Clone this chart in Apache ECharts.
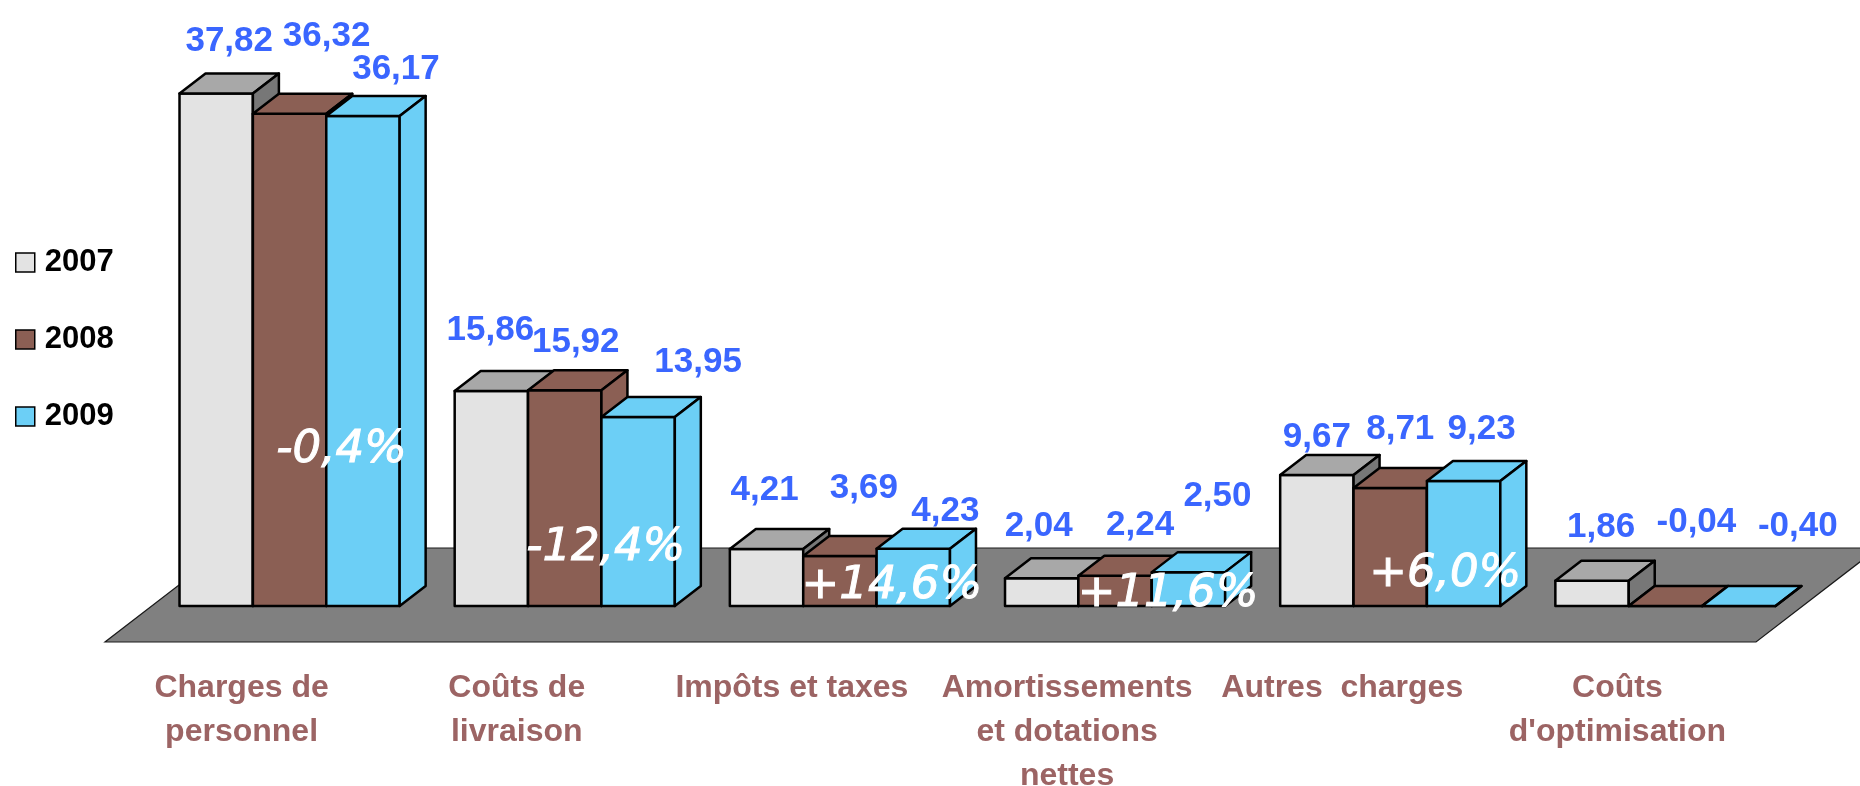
<!DOCTYPE html>
<html>
<head>
<meta charset="utf-8">
<script src="https://cdn.jsdelivr.net/npm/echarts@6/dist/echarts.min.js"></script>
<style>
  html, body { margin: 0; padding: 0; background: #fff; }
  #chart { width: 1860px; height: 786px; }
</style>
</head>
<body>
<div id="chart"></div>
<script>
// données
const categories = ['Charges de\npersonnel', 'Coûts de\nlivraison', 'Impôts et taxes',
  'Amortissements\net dotations\nnettes', 'Autres  charges', "Coûts\nd'optimisation"]
const years = ['2007', '2008', '2009']
const v2007 = [37.82, 15.86, 4.21, 2.04, 9.67, 1.86]
const v2008 = [36.32, 15.92, 3.69, 2.24, 8.71, -0.04]
const v2009 = [36.17, 13.95, 4.23, 2.50, 9.23, -0.40]
const changes = [-0.4, -12.4, 14.6, 11.6, 6.0, null] // 2009 / 2008

// placement des étiquettes (décalages en px, comme dans l'original)
const labelShift = [
  [[0, -6], [-14, -15], [-15, -13], [-16, -6], [-13, 8], [-4, -7]],
  [[24, -32], [-2, -2], [11, -22], [12, -4], [-3, -13], [18, -38]],
  [[20, -1], [47, -9], [19, 9], [16, -30], [5, -6], [46, -34]]
]
const pctPos = [[52, -156], [41, -58], [52, -20], [53, -12], [55, -32]]

const colors = [
  { front: '#E3E3E3', top: '#A8A8A8', side: '#777777' },
  { front: '#8B5F54', top: '#8B5F54', side: '#8B5F54' },
  { front: '#6CCFF6', top: '#6CCFF6', side: '#6CCFF6' }
]
const DX = 26, DY = -20

const fmt = v => v.toFixed(2).replace('.', ',')
const fmtPct = v => (v > 0 ? '+' : '') + v.toFixed(1).replace('.', ',') + '%'

const chart = echarts.init(document.getElementById('chart'))

const barRender = s => (params, api) => {
  const idx = api.value(0)
  const v = api.value(1)
  const base = api.coord([idx, 0])
  const top = api.coord([idx, Math.max(0, v)])
  const w = api.size([1, 0])[0] * 0.8 / 3
  const x0 = base[0] - 1.5 * w + s * w
  const x1 = x0 + w
  const yb = base[1], yt = top[1]
  const c = colors[s]
  const line = { stroke: '#000', lineWidth: 2.5, lineJoin: 'round' }
  const sh = labelShift[s][params.dataIndex]
  return {
    type: 'group',
    children: [
      { type: 'rect', shape: { x: x0, y: yt, width: w, height: yb - yt },
        style: Object.assign({ fill: c.front }, line) },
      { type: 'polygon', shape: { points: [[x0, yt], [x1, yt], [x1 + DX, yt + DY], [x0 + DX, yt + DY]] },
        style: Object.assign({ fill: c.top }, line) },
      { type: 'polygon', shape: { points: [[x1, yt], [x1, yb], [x1 + DX, yb + DY], [x1 + DX, yt + DY]] },
        style: Object.assign({ fill: c.side }, line) },
      { type: 'text', z2: 50,
        style: { x: x0 + w / 2 + DX / 2 + sh[0], y: yt + DY - 26 + sh[1], text: fmt(v),
          fill: '#3A66FF', font: 'bold 35px "Liberation Sans", Arial, sans-serif',
          align: 'center', verticalAlign: 'middle' } }
    ]
  }
}

const floorRender = (params, api) => {
  const band = api.size([1, 0])[0]
  const L = api.coord([0, 0])[0] - band / 2
  const R = api.coord([categories.length - 1, 0])[0] + band / 2
  const yb = api.coord([0, 0])[1]
  return {
    type: 'polygon',
    shape: { points: [[L - 47, yb + 36], [R - 47, yb + 36], [R + 75, yb - 58], [L + 75, yb - 58]] },
    style: { fill: '#808080', stroke: '#1a1a1a', lineWidth: 1.2 }
  }
}

const pctRender = (params, api) => {
  const i = params.dataIndex
  const p = api.coord([api.value(0), 0])
  return {
    type: 'text',
    style: { x: p[0] + pctPos[i][0], y: p[1] + pctPos[i][1], text: fmtPct(api.value(1)),
      fill: '#fff', stroke: '#fff', lineWidth: 1,
      font: 'italic 45px "DejaVu Sans", Verdana, sans-serif',
      align: 'center', verticalAlign: 'middle' }
  }
}

const series = [v2007, v2008, v2009].map((vals, s) => ({
  name: years[s],
  type: 'custom',
  z: 2 + s,
  itemStyle: { color: colors[s].front },
  renderItem: barRender(s),
  data: vals.map((v, i) => [i, v])
}))

chart.setOption({
  animation: false,
  grid: { left: 152, right: 57, top: 64, bottom: 180, containLabel: false, outerBoundsMode: 'none' },
  legend: {
    orient: 'vertical', left: 15, top: 247, padding: 0,
    itemWidth: 19, itemHeight: 19, itemGap: 46,
    itemStyle: { borderColor: '#000', borderWidth: 1.5 },
    textStyle: { fontSize: 31, fontWeight: 'bold', color: '#000', fontFamily: '"Liberation Sans", Arial',
      lineHeight: 30, padding: [0, 0, 0, 5] },
    data: years.map(y => ({ name: y, icon: 'rect' }))
  },
  xAxis: {
    type: 'category', data: categories,
    axisLine: { show: false }, axisTick: { show: false },
    axisLabel: { interval: 0, margin: 60, color: '#9C6464', fontSize: 32, fontWeight: 'bold',
      fontFamily: '"Liberation Sans", Arial', lineHeight: 44, padding: [0, 96, 0, 0] }
  },
  yAxis: { type: 'value', min: 0, max: 40, show: false, splitLine: { show: false } },
  series: [
    { name: 'floor', type: 'custom', z: 1, renderItem: floorRender, data: [[0, 0]], silent: true }
  ].concat(series, [{
    name: 'variation', type: 'custom', z: 10, renderItem: pctRender, silent: true,
    data: changes.map((v, i) => [i, v]).filter(d => d[1] !== null)
  }])
})

window.onresize = () => chart.resize()
</script>
</body>
</html>
